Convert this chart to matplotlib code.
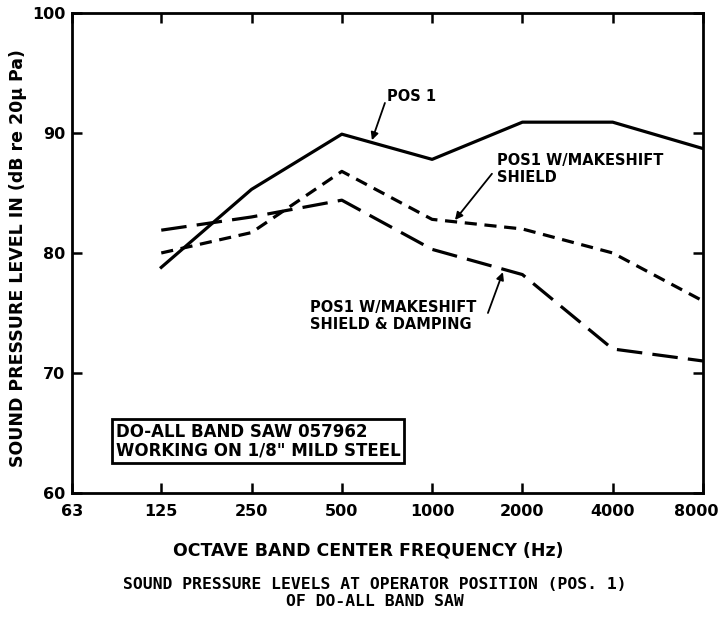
import matplotlib
matplotlib.use("Agg")
import matplotlib.pyplot as plt
from matplotlib.transforms import ScaledTranslation

# octave band centre frequencies (Hz)
freqs = [125, 250, 500, 1000, 2000, 4000, 8000]
tick_freqs = [63, 125, 250, 500, 1000, 2000, 4000, 8000]

# sound pressure levels (dB re 20 uPa)
pos1 = [78.8, 85.3, 89.9, 87.8, 90.9, 90.9, 88.7]
pos1_shield = [80, 81.7, 86.8, 82.8, 82, 80, 76]
pos1_shield_damping = [81.9, 83, 84.4, 80.3, 78.2, 72, 71]

fig = plt.figure(figsize=(7.23, 6.17), dpi=100)
ax = fig.add_axes([0.0996, 0.201, 0.8727, 0.778])

ax.plot(freqs, pos1, color="black", lw=2.3, solid_joinstyle="round")
ax.plot(freqs, pos1_shield, color="black", lw=2.3, dashes=(3.8, 2.4))
ax.plot(freqs, pos1_shield_damping, color="black", lw=2.3, dashes=(8, 3.2))

ax.set_xscale("log")
ax.set_xlim(63, 8000)
ax.set_ylim(60, 100)
ax.set_xticks(tick_freqs)
ax.set_xticklabels([str(f) for f in tick_freqs])
ax.minorticks_off()
ax.set_yticks([60, 70, 80, 90, 100])

for s in ax.spines.values():
    s.set_linewidth(2)
ax.tick_params(axis="both", direction="in", length=7, width=1.8,
               top=True, right=True, labelsize=11.5)
ax.tick_params(axis="x", pad=8)
ax.tick_params(axis="y", pad=5)
for lab in ax.get_xticklabels() + ax.get_yticklabels():
    lab.set_fontweight("bold")

# keep the last label ("8000") inside the picture
last = ax.get_xticklabels()[-1]
last.set_transform(last.get_transform() +
                   ScaledTranslation(-5 / 72, 0, fig.dpi_scale_trans))

ax.set_xlabel("OCTAVE BAND CENTER FREQUENCY (Hz)", fontsize=12.5,
              fontweight="bold", va="center")
ax.xaxis.set_label_coords(0.47, -0.119)
ax.set_ylabel("SOUND PRESSURE LEVEL IN (dB re 20\u03bc Pa)", fontsize=12.5,
              fontweight="bold", va="center")
ax.yaxis.set_label_coords(-0.085, 0.49)

arrow = dict(arrowstyle="-|>", color="black", lw=1.3, mutation_scale=11,
             shrinkA=0, shrinkB=0)
tfont = dict(fontsize=10.5, fontweight="bold", linespacing=1.2,
             ha="left", va="center")

ax.text(706, 93.0, "POS 1", **tfont)
ax.annotate("", xy=(630, 89.4), xytext=(696, 92.5), arrowprops=arrow)

ax.text(1645, 87.0, "POS1 W/MAKESHIFT\nSHIELD", **tfont)
ax.annotate("", xy=(1192, 82.75), xytext=(1583, 86.6), arrowprops=arrow)

ax.text(391, 74.75, "POS1 W/MAKESHIFT\nSHIELD & DAMPING", **tfont)
ax.annotate("", xy=(1722, 78.4), xytext=(1535, 75.0), arrowprops=arrow)

ax.text(88, 64.33, "DO-ALL BAND SAW 057962\nWORKING ON 1/8\" MILD STEEL",
        fontsize=12, fontweight="bold", linespacing=1.05,
        va="center", ha="left",
        bbox=dict(boxstyle="square,pad=0.2", fc="white", ec="black", lw=2))

fig.text(0.519, 0.039,
         "SOUND PRESSURE LEVELS AT OPERATOR POSITION (POS. 1)\nOF DO-ALL BAND SAW",
         ha="center", va="center", fontsize=11.8, fontweight="bold",
         family="DejaVu Sans Mono", linespacing=1.2)

fig.savefig("out.png", dpi=100)
